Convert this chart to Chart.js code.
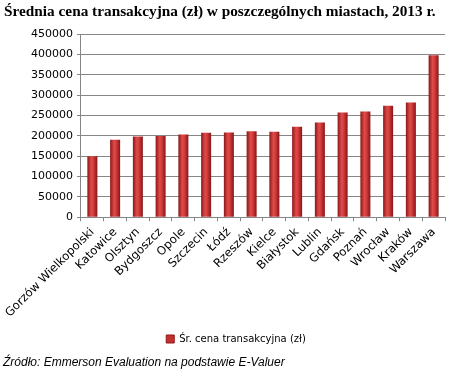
<!DOCTYPE html>
<html>
<head>
<meta charset="utf-8">
<script src="https://cdn.jsdelivr.net/npm/chart.js@4/dist/chart.umd.min.js"></script>
<style>
  html, body { margin: 0; padding: 0; background: #fff; }
  #wrap { position: relative; width: 454px; height: 382px; overflow: hidden; }
  #title { position: absolute; left: 4px; top: 2px; font: bold 15.3px "Liberation Serif", serif; color: #000; white-space: nowrap; }
  #source { position: absolute; left: 3px; top: 355px; font: italic 12px "Liberation Sans", sans-serif; color: #000; white-space: nowrap; }
  canvas { position: absolute; left: 0; top: 0; }
</style>
</head>
<body>
<div id="wrap">
  <canvas id="chart" width="454" height="382"></canvas>
  <div id="title">Średnia cena transakcyjna (zł) w poszczególnych miastach, 2013 r.</div>
  <div id="source">Źródło: Emmerson Evaluation na podstawie E-Valuer</div>
</div>
<script>
// dane
const cities = ['Gorzów Wielkopolski', 'Katowice', 'Olsztyn', 'Bydgoszcz', 'Opole', 'Szczecin', 'Łódź', 'Rzeszów',
                'Kielce', 'Białystok', 'Lublin', 'Gdańsk', 'Poznań', 'Wrocław', 'Kraków', 'Warszawa'];
const prices = [150000, 190500, 198000, 199500, 203000, 207500, 208000, 211000,
                210000, 222500, 232500, 257000, 259500, 274000, 281500, 398000];
const yTicks = [0, 50000, 100000, 150000, 200000, 250000, 300000, 350000, 400000, 450000];
const seriesLabel = 'Śr. cena transakcyjna (zł)';

const BAR_PCT = 0.44;

// gradient poziomy dla każdego słupka (jaśniejszy środek)
function barFill(context) {
    const chart = context.chart;
    const area = chart.chartArea;
    if (!area || context.type !== 'data') return '#c43030';
    const xs = chart.scales.x;
    const x = xs.getPixelForValue(context.dataIndex);
    const half = (xs.width / cities.length) * BAR_PCT / 2;
    const g = chart.ctx.createLinearGradient(x - half, 0, x + half, 0);
    g.addColorStop(0, '#8c1717');
    g.addColorStop(0.4, '#e04a4a');
    g.addColorStop(0.6, '#d23c3c');
    g.addColorStop(1, '#861515');
    return g;
}

const ctx = document.getElementById('chart').getContext('2d');
new Chart(ctx, {
    type: 'bar',
    data: {
        labels: cities,
        datasets: [{
            label: seriesLabel,
            data: prices,
            backgroundColor: barFill,
            borderWidth: 0,
            categoryPercentage: 1,
            barPercentage: BAR_PCT
        }]
    },
    options: {
        responsive: false,
        animation: false,
        layout: { padding: { top: 34, right: 9, bottom: 28, left: 27 } },
        plugins: {
            tooltip: { enabled: false },
            legend: {
                position: 'bottom',
                labels: {
                    boxWidth: 8,
                    boxHeight: 8,
                    padding: 10,
                    color: '#000',
                    font: { family: 'DejaVu Sans', size: 10 },
                    generateLabels: () => [{
                        text: seriesLabel,
                        fillStyle: '#c43030',
                        strokeStyle: '#8c1717',
                        lineWidth: 1,
                        datasetIndex: 0
                    }]
                }
            }
        },
        scales: {
            x: {
                offset: true,
                grid: {
                    display: true,
                    offset: true,
                    drawOnChartArea: false,
                    drawTicks: true,
                    tickLength: 4,
                    color: '#868686'
                },
                border: { color: '#868686' },
                ticks: {
                    color: '#000',
                    font: { family: 'DejaVu Sans', size: 11.7 },
                    minRotation: 45,
                    maxRotation: 45,
                    autoSkip: false,
                    padding: 4
                }
            },
            y: {
                min: 0,
                max: 450000,
                afterBuildTicks: (axis) => { axis.ticks = yTicks.map(v => ({ value: v })); },
                grid: { color: '#868686', tickLength: 4 },
                border: { color: '#868686' },
                ticks: {
                    color: '#000',
                    font: { family: 'DejaVu Sans', size: 11 },
                    padding: 4,
                    callback: (v) => String(v)
                }
            }
        }
    }
});
</script>
</body>
</html>
